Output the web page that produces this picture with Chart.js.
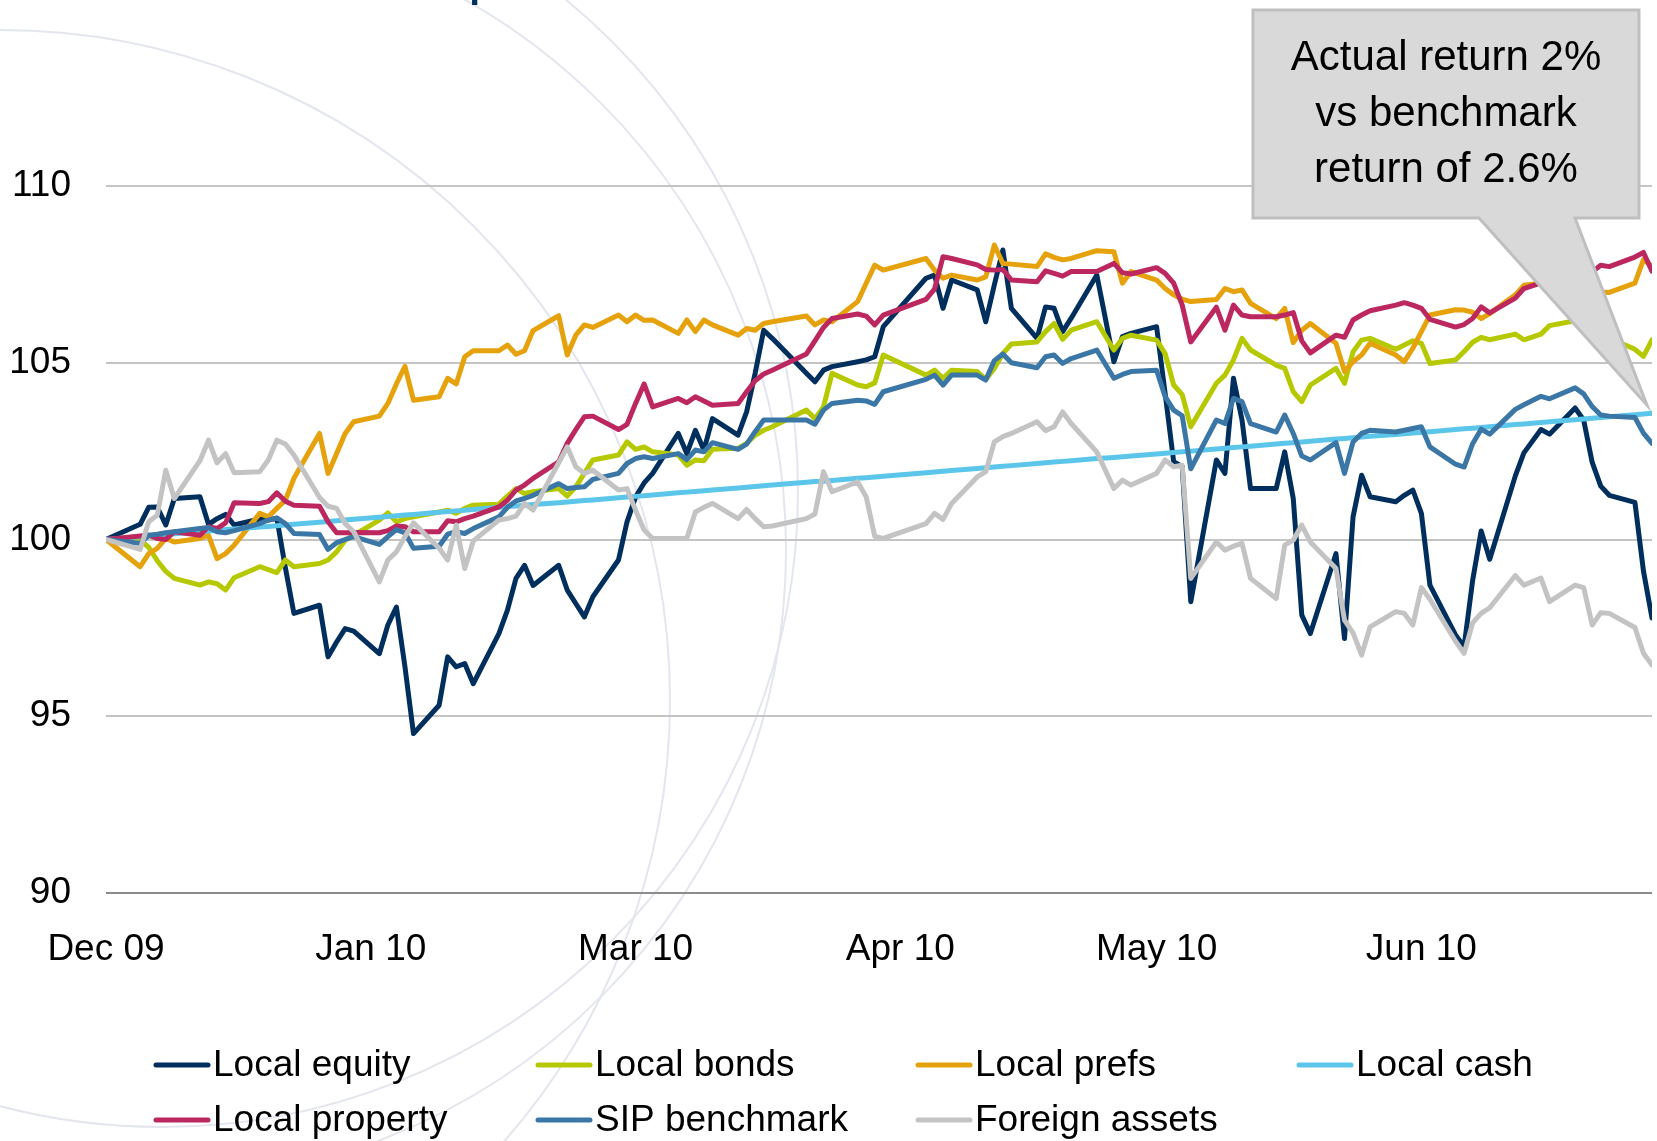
<!DOCTYPE html>
<html>
<head>
<meta charset="utf-8">
<script src="https://cdn.jsdelivr.net/npm/chart.js@4.4.0/dist/chart.umd.min.js"></script>
<style>
    html, body { margin: 0; padding: 0; background: #ffffff; }
    #wrap { position: relative; width: 1657px; height: 1141px; }
</style>
</head>
<body>
<div id="wrap"><canvas id="perfChart" width="1657" height="1141"></canvas></div>
<script>
// Trading days Dec 31 2009 - Jun 30 2010 (weekends and SA public holidays skipped)
var startDate = "2009-12-31";
var endDate = "2010-06-30";
var holidays = ["2010-01-01", "2010-03-22", "2010-04-02", "2010-04-05", "2010-04-27", "2010-06-16"];

// x axis labels, Excel style major unit (one month, counted from Dec 31)
var tickDates = ["2009-12-31", "2010-01-31", "2010-03-03", "2010-04-03", "2010-05-03", "2010-06-03"];
var tickLabels = ["Dec 09", "Jan 10", "Mar 10", "Apr 10", "May 10", "Jun 10"];
var yTicks = [90, 95, 100, 105, 110];

var seriesNames = ["Local equity", "Local bonds", "Local prefs", "Local cash",
    "Local property", "SIP benchmark", "Foreign assets"];
var seriesColors = ["#002F5E", "#B5C800", "#E6A20C", "#5BC6EA", "#BC2760", "#3B77A6", "#C3C3C3"];

var localEquity = [100.0,
    100.43, 100.91, 100.92, 100.41, 101.16,
    101.21, 100.43, 100.59, 100.71, 100.41,
    100.58, 100.55, 100.6, 99.2, 97.91,
    98.14, 96.68, 97.1, 97.48, 97.41,
    96.77, 97.58, 98.09, 96.4, 94.51,
    95.31, 96.68, 96.4, 96.49, 95.92,
    97.34, 98.0, 98.9, 99.27, 98.7,
    99.27, 98.57, 98.19, 97.81, 98.38,
    99.42, 100.5, 101.2, 101.6, 101.87,
    103.0, 102.43, 103.09, 102.53, 103.42,
    102.95, 103.61, 104.7, 105.92, 105.69,
    104.7, 104.46, 104.79, 104.89,
    105.03, 105.08, 105.17, 106.02,
    107.39, 107.48, 106.54, 107.34,
    107.06, 106.16, 107.2, 108.19, 106.54,
    105.69, 106.58, 106.54, 105.88, 106.26,
    107.48, 105.03, 105.74, 105.83,
    106.02, 104.13, 102.2, 102.06, 98.24,
    102.25, 101.87, 104.56, 103.38, 101.44,
    101.44, 102.48, 101.16, 97.86, 97.34,
    99.6, 97.2, 100.64, 101.82, 101.21,
    101.07, 101.25, 101.4, 100.74, 98.71,
    97.3, 96.97, 98.84, 100.24, 99.44,
    101.8, 102.45, 103.11, 102.98,
    103.72, 103.38, 102.18, 101.51, 101.25,
    101.05, 99.11, 97.78];

var localBonds = [100.0,
    99.98, 99.78, 99.4, 99.1, 98.9,
    98.71, 98.8, 98.75, 98.57, 98.92,
    99.23, 99.15, 99.06, 99.42, 99.23,
    99.32, 99.42, 99.65, 99.98, 100.12,
    100.55, 100.75, 100.5, 100.59, 100.64,
    100.78, 100.83, 100.74, 100.88, 100.97,
    101.0, 101.23, 101.44, 101.3, 101.35,
    101.44, 101.23, 101.49, 101.87, 102.25,
    102.39, 102.76, 102.55, 102.62, 102.48,
    102.39, 102.1, 102.25, 102.23, 102.55,
    102.58, 102.72, 102.95, 103.09, 103.19,
    103.66, 103.42, 103.75, 104.7,
    104.37, 104.32, 104.43, 105.22,
    104.65, 104.79, 104.56, 104.79,
    104.75, 104.53, 104.84, 105.26, 105.53,
    105.59, 105.88, 106.11, 105.66, 105.92,
    106.16, 105.36, 105.69, 105.78,
    105.64, 105.26, 104.37, 104.1, 103.19,
    104.42, 104.65, 105.08, 105.69, 105.36,
    104.93, 104.84, 104.18, 103.9, 104.37,
    104.84, 104.42, 105.31, 105.64, 105.69,
    105.38, 105.5, 105.62, 105.55, 104.98,
    105.08, 105.32, 105.58, 105.72, 105.65,
    105.81, 105.65, 105.81, 106.05,
    106.19, 106.2, 106.1, 105.9, 105.7,
    105.38, 105.18, 105.65];

var localPrefs = [100.0,
    99.23, 99.6, 99.75, 100.03, 99.93,
    100.03, 100.12, 99.46, 99.6, 99.84,
    100.74, 100.64, 100.88, 101.11, 101.73,
    103.0, 101.87, 102.43, 103.0, 103.33,
    103.49, 103.85, 104.4, 104.9, 103.94,
    104.04, 104.56, 104.4, 105.17, 105.34,
    105.34, 105.5, 105.24, 105.34, 105.91,
    106.33, 105.22, 105.78, 106.07, 106.0,
    106.35, 106.16, 106.35, 106.2, 106.21,
    105.83, 106.21, 105.88, 106.21, 106.07,
    105.78, 105.97, 105.92, 106.11, 106.16,
    106.32, 106.07, 106.21, 106.16,
    106.73, 107.25, 107.76, 107.62,
    107.95, 107.62, 107.39, 107.48,
    107.34, 107.43, 108.33, 107.81, 107.79,
    107.72, 108.08, 107.98, 107.91, 107.95,
    108.17, 108.14, 107.25, 107.58,
    107.34, 107.1, 106.92, 106.8, 106.73,
    106.79, 107.1, 107.01, 107.06, 106.68,
    106.25, 106.54, 105.57, 105.92, 106.11,
    105.55, 104.75, 105.03, 105.22, 105.55,
    105.22, 105.03, 105.41, 105.88, 106.35,
    106.5, 106.49, 106.43, 106.25, 106.39,
    106.92, 107.19, 107.25, 107.4,
    107.3, 107.2, 107.1, 107.0, 106.99,
    107.25, 107.92, 107.72];

var localCash = [100.0,
    100.08, 100.1, 100.12, 100.14, 100.16,
    100.22, 100.24, 100.26, 100.28, 100.3,
    100.35, 100.37, 100.39, 100.41, 100.43,
    100.49, 100.51, 100.53, 100.55, 100.57,
    100.63, 100.65, 100.67, 100.69, 100.71,
    100.77, 100.79, 100.81, 100.83, 100.85,
    100.91, 100.93, 100.95, 100.97, 100.99,
    101.04, 101.06, 101.08, 101.1, 101.12,
    101.18, 101.2, 101.22, 101.24, 101.26,
    101.32, 101.34, 101.36, 101.38, 101.4,
    101.46, 101.48, 101.5, 101.52, 101.54,
    101.62, 101.64, 101.65, 101.67,
    101.73, 101.75, 101.77, 101.79,
    101.89, 101.91, 101.93, 101.95,
    102.01, 102.03, 102.05, 102.07, 102.09,
    102.15, 102.17, 102.19, 102.21, 102.23,
    102.29, 102.32, 102.34, 102.36,
    102.42, 102.44, 102.46, 102.48, 102.5,
    102.56, 102.58, 102.6, 102.62, 102.64,
    102.7, 102.72, 102.74, 102.76, 102.78,
    102.84, 102.86, 102.88, 102.9, 102.92,
    102.97, 102.99, 103.01, 103.03, 103.05,
    103.11, 103.13, 103.15, 103.17, 103.19,
    103.25, 103.27, 103.31, 103.33,
    103.39, 103.41, 103.43, 103.45, 103.47,
    103.53, 103.55, 103.57];

var localProperty = [100.0,
    100.1, 100.12, 100.03, 100.0, 100.22,
    100.12, 100.36, 100.31, 100.47, 101.04,
    101.02, 101.07, 101.32, 101.08, 100.97,
    100.94, 100.5, 100.19, 100.19, 100.2,
    100.19, 100.25, 100.38, 100.36, 100.22,
    100.22, 100.53, 100.5, 100.59, 100.66,
    100.92, 101.11, 101.4, 101.54, 101.73,
    102.2, 102.72, 103.11, 103.47, 103.49,
    103.11, 103.26, 103.85, 104.4, 103.75,
    103.99, 103.87, 104.04, 103.92, 103.8,
    103.85, 104.18, 104.49, 104.68, 104.79,
    105.25, 105.62, 106.0, 106.25,
    106.38, 106.32, 106.07, 106.35,
    106.79, 107.08, 108.0, 107.95,
    107.77, 107.64, 107.62, 107.64, 107.34,
    107.29, 107.6, 107.53, 107.45, 107.58,
    107.58, 107.81, 107.55, 107.51,
    107.69, 107.53, 107.25, 106.63, 105.59,
    106.57, 105.92, 106.63, 106.35, 106.3,
    106.3, 106.35, 106.42, 105.62, 105.28,
    105.78, 105.72, 106.21, 106.35, 106.47,
    106.63, 106.7, 106.63, 106.54, 106.23,
    106.01, 106.08, 106.25, 106.58, 106.41,
    106.83, 107.1, 107.26, 107.39,
    107.5, 107.55, 107.57, 107.76, 107.72,
    107.99, 108.12, 107.59];

var sipBenchmark = [100.0,
    99.89, 100.12, 100.15, 100.19, 100.22,
    100.31, 100.34, 100.22, 100.19, 100.25,
    100.45, 100.55, 100.61, 100.45, 100.17,
    100.14, 99.72, 99.91, 100.0, 100.08,
    99.86, 100.08, 100.28, 100.19, 99.75,
    99.81, 100.15, 100.22, 100.17, 100.31,
    100.64, 100.91, 101.09, 101.16, 101.25,
    101.58, 101.44, 101.47, 101.49, 101.7,
    101.87, 102.15, 102.29, 102.34, 102.29,
    102.43, 102.26, 102.53, 102.48, 102.74,
    102.55, 102.7, 103.05, 103.38, 103.38,
    103.38, 103.26, 103.66, 103.85,
    103.94, 103.92, 103.82, 104.18,
    104.53, 104.65, 104.37, 104.65,
    104.65, 104.51, 105.06, 105.25, 105.0,
    104.86, 105.17, 105.22, 104.98, 105.12,
    105.36, 104.56, 104.67, 104.75,
    104.79, 104.04, 103.66, 103.5, 102.0,
    103.38, 103.28, 103.99, 103.9, 103.28,
    103.04, 103.52, 103.0, 102.36, 102.25,
    102.74, 101.87, 102.76, 103.0, 103.09,
    103.04, 103.09, 103.14, 103.19, 102.62,
    102.13, 102.05, 102.71, 103.12, 102.98,
    103.68, 103.81, 104.05, 103.98,
    104.29, 104.12, 103.76, 103.52, 103.49,
    103.45, 103.01, 102.72];

var foreignAssets = [100.0,
    99.72, 100.5, 100.69, 101.96, 101.16,
    102.23, 102.81, 102.17, 102.43, 101.89,
    101.92, 102.25, 102.81, 102.7, 102.39,
    101.19, 100.94, 100.88, 100.45, 100.22,
    98.8, 99.42, 99.65, 100.08, 100.47,
    99.75, 99.42, 100.41, 99.18, 99.96,
    100.55, 100.59, 100.66, 101.02, 100.83,
    102.17, 102.62, 102.06, 101.87, 101.96,
    101.4, 101.44, 100.83, 100.27, 100.03,
    100.03, 100.03, 100.78, 100.91, 101.02,
    100.59, 100.85, 100.59, 100.36, 100.38,
    100.59, 100.72, 101.92, 101.35,
    101.63, 101.21, 100.09, 100.03,
    100.45, 100.74, 100.57, 101.02,
    101.77, 101.92, 102.76, 102.91, 103.0,
    103.33, 103.08, 103.19, 103.61, 103.28,
    102.48, 101.44, 101.68, 101.54,
    101.87, 102.25, 102.06, 102.1, 98.9,
    99.93, 99.7, 99.81, 99.89, 98.9,
    98.33, 99.84, 99.98, 100.41, 99.93,
    99.18, 97.72, 97.36, 96.73, 97.53,
    97.96, 97.91, 97.58, 98.64, 98.31,
    97.12, 96.78, 97.64, 97.91, 98.07,
    98.98, 98.71, 98.91, 98.24,
    98.71, 98.64, 97.58, 97.93, 97.91,
    97.51, 96.78, 96.45];

var calloutLines = ["Actual return 2%", "vs benchmark", "return of 2.6%"];

var FONT = '"Liberation Sans", Arial, Helvetica, sans-serif';

function dayOf(iso) {
    return Math.round((Date.parse(iso) - Date.parse(startDate)) / 86400000);
}

// build the list of trading days as day numbers from the start date
var tradingDays = [];
for (var d = 0; d <= dayOf(endDate); d++) {
    var dt = new Date(Date.parse(startDate) + d * 86400000);
    var wd = dt.getUTCDay();
    var iso = dt.toISOString().slice(0, 10);
    if (wd === 0 || wd === 6 || holidays.indexOf(iso) >= 0) continue;
    tradingDays.push(d);
}
var tickDays = tickDates.map(dayOf);

var allSeries = [localEquity, localBonds, localPrefs, localCash, localProperty, sipBenchmark, foreignAssets];

var datasets = allSeries.map(function (values, i) {
    if (values.length !== tradingDays.length) {
        console.error(seriesNames[i] + ": " + values.length + " values for " + tradingDays.length + " days");
    }
    return {
        label: seriesNames[i],
        data: values.map(function (v, k) { return { x: tradingDays[k], y: v }; }),
        borderColor: seriesColors[i],
        backgroundColor: seriesColors[i],
        borderWidth: 5,
        borderJoinStyle: "round",
        borderCapStyle: "round",
        pointRadius: 0,
        tension: 0,
        fill: false,
        order: allSeries.length - i // later series on top, like Excel
    };
});

// faint background arcs of the slide template
var bgArcs = [
    { cx: 154, cy: 550, r: 632 },
    { cx: 162, cy: 491, r: 636 },
    { cx: 0, cy: 700, r: 670 }
];

var decoPlugin = {
    id: "deco",
    beforeDraw: function (chart) {
        var ctx = chart.ctx;
        ctx.save();
        ctx.fillStyle = "#ffffff";
        ctx.fillRect(0, 0, chart.width, chart.height);
        ctx.strokeStyle = "#E4E6EE";
        ctx.lineWidth = 2;
        bgArcs.forEach(function (a) {
            ctx.beginPath();
            ctx.arc(a.cx, a.cy, a.r, 0, Math.PI * 2);
            ctx.stroke();
        });
        // descender of the slide title, cut off by the top edge
        ctx.fillStyle = "#002F5E";
        ctx.font = "60px " + FONT;
        ctx.textBaseline = "alphabetic";
        ctx.fillText("p", 468, -7);
        ctx.restore();
    },
    afterDraw: function (chart) {
        var ctx = chart.ctx;
        var xs = chart.scales.x, ys = chart.scales.y;

        // legend, 4 columns x 2 rows
        var colX = [155, 537, 917, 1298];
        var rowY = [1065, 1120];
        ctx.save();
        ctx.font = "37px " + FONT;
        ctx.textBaseline = "middle";
        ctx.textAlign = "left";
        chart.data.datasets.forEach(function (ds, i) {
            var x = colX[i % 4], y = rowY[Math.floor(i / 4)];
            ctx.strokeStyle = ds.borderColor;
            ctx.lineWidth = 5;
            ctx.lineCap = "round";
            ctx.beginPath();
            ctx.moveTo(x + 1, y);
            ctx.lineTo(x + 53, y);
            ctx.stroke();
            ctx.fillStyle = "#000000";
            ctx.fillText(ds.label, x + 58, y + 1);
        });
        ctx.restore();

        // callout box with pointer to the end of the lines
        var bx0 = 1253, by0 = 10, bx1 = 1639, by1 = 218;
        var tipX = xs.getPixelForValue(tradingDays[tradingDays.length - 1]) - 5;
        var tipY = ys.getPixelForValue(103.8);
        ctx.save();
        ctx.beginPath();
        ctx.moveTo(bx0, by0);
        ctx.lineTo(bx1, by0);
        ctx.lineTo(bx1, by1);
        ctx.lineTo(1575, by1);
        ctx.lineTo(tipX, tipY);
        ctx.lineTo(1479, by1);
        ctx.lineTo(bx0, by1);
        ctx.closePath();
        ctx.fillStyle = "#D9D9D9";
        ctx.fill();
        ctx.strokeStyle = "#BFBFBF";
        ctx.lineWidth = 3;
        ctx.lineJoin = "miter";
        ctx.stroke();
        ctx.fillStyle = "#000000";
        ctx.font = "42px " + FONT;
        ctx.textAlign = "center";
        ctx.textBaseline = "middle";
        calloutLines.forEach(function (t, k) {
            ctx.fillText(t, (bx0 + bx1) / 2, 58 + k * 56);
        });
        ctx.restore();
    }
};

var ctx = document.getElementById("perfChart").getContext("2d");
new Chart(ctx, {
    type: "line",
    data: { datasets: datasets },
    plugins: [decoPlugin],
    options: {
        responsive: false,
        animation: false,
        devicePixelRatio: 1,
        layout: { padding: { left: 0, right: 5, top: 186, bottom: 108 } },
        plugins: {
            legend: { display: false },
            tooltip: { enabled: false }
        },
        scales: {
            x: {
                type: "linear",
                min: 0,
                max: tradingDays[tradingDays.length - 1],
                grid: { display: false },
                border: { display: false },
                afterBuildTicks: function (scale) {
                    scale.ticks = tickDays.map(function (v) { return { value: v }; });
                },
                afterFit: function (scale) { scale.height = 140; },
                ticks: {
                    autoSkip: false,
                    maxRotation: 0,
                    padding: 27,
                    color: "#000000",
                    font: { size: 37, family: FONT },
                    callback: function (value, index) { return tickLabels[index]; }
                }
            },
            y: {
                min: 90,
                max: 110,
                afterBuildTicks: function (scale) {
                    scale.ticks = yTicks.map(function (v) { return { value: v }; });
                },
                afterFit: function (scale) { scale.width = 106; },
                grid: {
                    color: function (c) { return c.tick && c.tick.value === 90 ? "#8C8C8C" : "#C4C4C4"; },
                    lineWidth: 2,
                    drawTicks: false
                },
                border: { display: false },
                ticks: {
                    padding: 35,
                    color: "#000000",
                    font: { size: 37, family: FONT }
                }
            }
        }
    }
});
</script>
</body>
</html>
